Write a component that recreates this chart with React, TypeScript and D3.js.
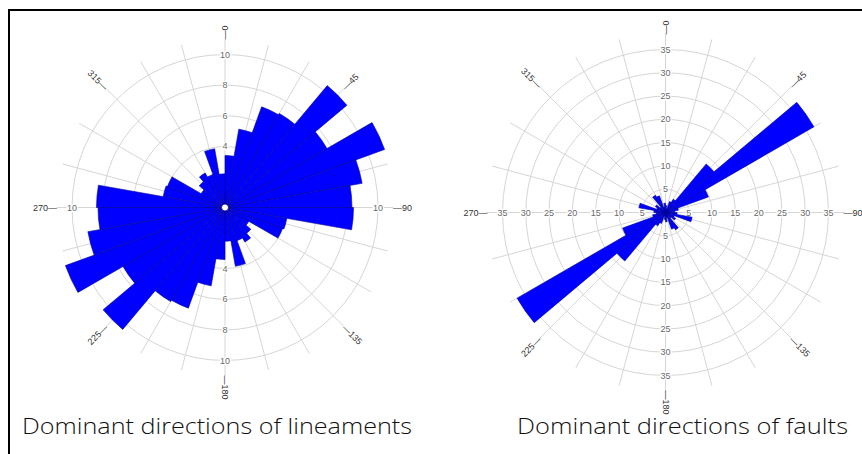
import React from "react";
import * as d3 from "d3";

// bidirectional rose: each 10-degree bin is drawn at theta and theta + 180
const binStarts = [0, 10, 20, 30, 40, 50, 60, 70, 80, 90, 100, 110, 120, 130, 140, 150, 160, 170];
const lineamentCounts = [3.4, 5.2, 7.0, 7.1, 10.4, 7.7, 11.1, 9.1, 8.3, 8.4, 4.1, 4.0, 1.8, 2.2, 2.6, 2.3, 3.9, 2.2];
const faultCounts = [1.5, 0.8, 2.5, 3.3, 13.6, 36.8, 9.8, 2.8, 2.0, 2.5, 5.8, 2.0, 2.5, 1.5, 4.3, 3.8, 1.2, 2.0];

const lineamentTicks = [2, 4, 6, 8, 10];
const faultTicks = [5, 10, 15, 20, 25, 30, 35];
const compassLabels = [0, 45, 90, 135, 180, 225, 270, 315];
const spokeAngles = d3.range(0, 360, 15);

const BIN = 10;
const rad = (deg: number) => (deg * Math.PI) / 180;

type RoseProps = {
  cx: number;
  cy: number;
  radius: number;
  maxValue: number;
  ticks: number[];
  counts: number[];
  hole?: boolean;
};

function Rose({ cx, cy, radius, maxValue, ticks, counts, hole }: RoseProps) {
  const r = d3.scaleLinear().domain([0, maxValue]).range([0, radius]);
  const arc = d3.arc<any>();
  const spokeR = radius * 1.1;
  const labelR = radius + 15;

  const bars = binStarts.flatMap((b, i) => [
    { start: b, value: counts[i] },
    { start: b + 180, value: counts[i] },
  ]);

  const axisDirs = [0, 90, 180, 270];

  return (
    <g transform={`translate(${cx},${cy})`}>
      {/* rings */}
      {ticks.map((t) => (
        <circle key={t} r={r(t)} fill="none" stroke="#d6d6d6" strokeWidth={1} />
      ))}
      {/* spokes */}
      {spokeAngles.map((a) => (
        <line
          key={a}
          x1={0}
          y1={0}
          x2={spokeR * Math.sin(rad(a))}
          y2={-spokeR * Math.cos(rad(a))}
          stroke="#d6d6d6"
          strokeWidth={1}
        />
      ))}
      {/* ring labels on the four axes */}
      {axisDirs.flatMap((a) =>
        ticks.map((t) => (
          <text
            key={`${a}-${t}`}
            x={r(t) * Math.sin(rad(a))}
            y={-r(t) * Math.cos(rad(a))}
            textAnchor="middle"
            dominantBaseline="central"
            fontSize={9}
            fill="#6a6a6a"
            stroke="#fff"
            strokeWidth={2.5}
            paintOrder="stroke"
            fontFamily="Liberation Sans, Arial, sans-serif"
          >
            {t}
          </text>
        ))
      )}
      {/* compass labels */}
      {compassLabels.map((a) => {
        const x = labelR * Math.sin(rad(a));
        const y = -labelR * Math.cos(rad(a));
        const right = a <= 180;
        const rot = right ? a - 90 : a - 270;
        return (
          <text
            key={a}
            x={0}
            y={0}
            transform={`translate(${x},${y}) rotate(${rot})`}
            textAnchor={right ? "start" : "end"}
            dominantBaseline="central"
            fontSize={9}
            fill="#333"
            fontFamily="Liberation Sans, Arial, sans-serif"
          >
            {right ? `\u2014${a}` : `${a}\u2014`}
          </text>
        );
      })}
      {/* bars */}
      {bars.map((d) => (
        <path
          key={d.start}
          d={
            arc({
              innerRadius: 0,
              outerRadius: r(d.value),
              startAngle: rad(d.start),
              endAngle: rad(d.start + BIN),
            }) || ""
          }
          fill="#0000ff"
          stroke="#00009a"
          strokeWidth={0.6}
        />
      ))}
      {hole && <circle r={3.5} fill="#fff" stroke="#00007a" strokeWidth={0.8} />}
    </g>
  );
}

export default function App() {
  return (
    <svg
      width={862}
      height={454}
      style={{ position: "absolute", left: 0, top: 0, background: "#fff" }}
    >
      <rect x={0} y={0} width={862} height={454} fill="#fff" />
      <Rose
        cx={225}
        cy={207.5}
        radius={153}
        maxValue={10}
        ticks={lineamentTicks}
        counts={lineamentCounts}
        hole
      />
      <Rose
        cx={665.5}
        cy={212.5}
        radius={163}
        maxValue={35}
        ticks={faultTicks}
        counts={faultCounts}
      />
      <text
        x={22}
        y={434}
        textLength={390}
        lengthAdjust="spacingAndGlyphs"
        fontSize={22}
        fontWeight={300}
        fill="#111"
        fontFamily="Open Sans, Roboto, Liberation Sans, sans-serif"
      >
        Dominant directions of lineaments
      </text>
      <text
        x={517}
        y={434}
        textLength={331}
        lengthAdjust="spacingAndGlyphs"
        fontSize={22}
        fontWeight={300}
        fill="#111"
        fontFamily="Open Sans, Roboto, Liberation Sans, sans-serif"
      >
        Dominant directions of faults
      </text>
      {/* frame edges */}
      <line x1={8} y1={10} x2={862} y2={10} stroke="#000" strokeWidth={2} />
      <line x1={9} y1={9} x2={9} y2={454} stroke="#000" strokeWidth={2} />
    </svg>
  );
}
